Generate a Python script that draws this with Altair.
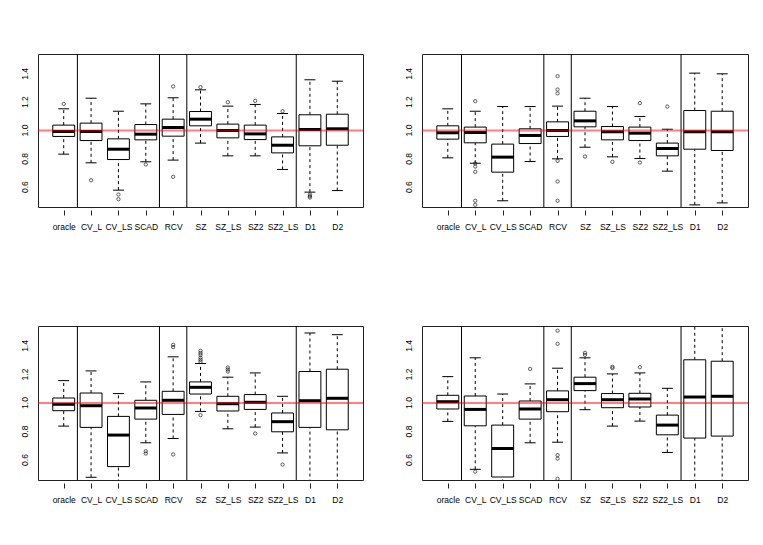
import altair as alt
import pandas as pd

methods = ["oracle", "CV_L", "CV_LS", "SCAD", "RCV", "SZ", "SZ_LS", "SZ2", "SZ2_LS", "D1", "D2"]
separators = [1.5, 4.5, 5.5, 9.5]
reference = [1.0]
y_ticks = [0.6, 0.8, 1.0, 1.2, 1.4]

# Panel 1 (top-left)
p1_low = [0.833, 0.772, 0.579, 0.779, 0.791, 0.911, 0.821, 0.821, 0.725, 0.565, 0.576]
p1_q1 = [0.958, 0.929, 0.795, 0.934, 0.960, 1.033, 0.948, 0.936, 0.842, 0.892, 0.896]
p1_med = [0.993, 0.993, 0.868, 0.974, 1.021, 1.080, 1.000, 0.976, 0.896, 1.007, 1.012]
p1_q3 = [1.038, 1.052, 0.941, 1.042, 1.080, 1.134, 1.045, 1.038, 0.955, 1.111, 1.115]
p1_high = [1.153, 1.228, 1.136, 1.188, 1.231, 1.287, 1.172, 1.184, 1.120, 1.358, 1.348]
p1_out_m = ["oracle", "CV_L", "CV_LS", "CV_LS", "SCAD", "RCV", "RCV", "SZ", "SZ_LS", "SZ2", "SZ2_LS", "D1", "D1", "D1"]
p1_out_v = [1.188, 0.649, 0.548, 0.515, 0.760, 1.311, 0.673, 1.306, 1.200, 1.209, 1.136, 0.548, 0.536, 0.527]

# Panel 2 (top-right)
p2_low = [0.807, 0.769, 0.504, 0.781, 0.800, 0.882, 0.814, 0.802, 0.713, 0.475, 0.489]
p2_q1 = [0.939, 0.913, 0.706, 0.908, 0.958, 1.026, 0.934, 0.929, 0.821, 0.868, 0.859]
p2_med = [0.984, 0.986, 0.812, 0.965, 1.000, 1.068, 0.991, 0.981, 0.873, 0.991, 0.991]
p2_q3 = [1.033, 1.024, 0.904, 1.012, 1.061, 1.136, 1.028, 1.024, 0.911, 1.141, 1.136]
p2_high = [1.153, 1.136, 1.169, 1.169, 1.172, 1.228, 1.169, 1.099, 1.009, 1.405, 1.400]
p2_out_m = ["CV_L", "CV_L", "CV_L", "CV_L", "CV_L", "CV_L", "RCV", "RCV", "RCV", "RCV", "RCV", "RCV",
            "SZ", "SZ_LS", "SZ2", "SZ2", "SZ2_LS"]
p2_out_v = [1.207, 0.767, 0.746, 0.708, 0.504, 0.475, 1.384, 1.289, 1.262, 0.786, 0.640, 0.504,
            0.816, 0.779, 1.193, 0.774, 1.169]

# Panel 3 (bottom-left)
p3_low = [0.838, 0.479, 0.400, 0.721, 0.751, 0.941, 0.819, 0.831, 0.650, 0.400, 0.400]
p3_q1 = [0.946, 0.829, 0.554, 0.887, 0.920, 1.063, 0.944, 0.955, 0.798, 0.829, 0.812]
p3_med = [0.991, 0.981, 0.775, 0.965, 1.019, 1.110, 0.995, 1.005, 0.869, 1.016, 1.033]
p3_q3 = [1.035, 1.070, 0.906, 1.019, 1.082, 1.148, 1.047, 1.059, 0.930, 1.221, 1.237]
p3_high = [1.157, 1.225, 1.066, 1.148, 1.324, 1.277, 1.181, 1.211, 1.047, 1.491, 1.479]
p3_out_m = ["SCAD", "SCAD", "RCV", "RCV", "RCV", "SZ", "SZ", "SZ", "SZ", "SZ", "SZ", "SZ",
            "SZ_LS", "SZ_LS", "SZ_LS", "SZ2", "SZ2_LS"]
p3_out_v = [0.662, 0.646, 1.408, 1.392, 0.639, 1.366, 1.350, 1.336, 1.317, 1.303, 1.289, 0.915,
            1.249, 1.235, 1.221, 0.786, 0.568]

# Panel 4 (bottom-right)
p4_low = [0.871, 0.535, 0.400, 0.721, 0.725, 0.953, 0.838, 0.873, 0.653, 0.400, 0.400]
p4_q1 = [0.958, 0.840, 0.481, 0.887, 0.939, 1.087, 0.967, 0.972, 0.777, 0.754, 0.768]
p4_med = [1.009, 0.955, 0.681, 0.958, 1.023, 1.136, 1.023, 1.028, 0.845, 1.042, 1.047]
p4_q3 = [1.054, 1.049, 0.845, 1.014, 1.085, 1.181, 1.066, 1.068, 0.915, 1.303, 1.293]
p4_high = [1.185, 1.317, 1.063, 1.134, 1.244, 1.317, 1.204, 1.211, 1.103, 1.620, 1.620]
p4_out_m = ["CV_L", "SCAD", "RCV", "RCV", "RCV", "RCV", "RCV", "SZ", "SZ", "SZ_LS", "SZ_LS", "SZ2"]
p4_out_v = [0.519, 1.239, 1.507, 1.415, 0.634, 0.610, 0.468, 1.352, 1.338, 1.254, 1.245, 1.251]

FONT = "Liberation Sans"

xs = alt.Scale(domain=[0.06, 11.94], nice=False, zero=False)
ys = alt.Scale(domain=[0.46, 1.54], nice=False, zero=False)

label_expr = "[" + ",".join("'%s'" % m for m in methods) + "][datum.value - 1]"
x_axis = alt.Axis(values=list(range(1, len(methods) + 1)), labelExpr=label_expr, title=None,
                  grid=False, domain=False, tickSize=5, offset=3, labelPadding=7,
                  tickColor="#222", labelOverlap=False, labelFlush=False,
                  minExtent=26, maxExtent=26)
y_axis = alt.Axis(values=y_ticks, title=None, grid=False, domain=False, ticks=False,
                  labels=False, minExtent=24, maxExtent=24)


def X(field):
    return alt.X(field, scale=xs, axis=x_axis, title=None)


def Y(field):
    return alt.Y(field, scale=ys, axis=y_axis, title=None)


def panel(low, q1, med, q3, high, out_m, out_v, red_color, red_width, red_opacity, w, h):
    df = pd.DataFrame({
        "method": methods,
        "pos": list(range(1, len(methods) + 1)),
        "low": low, "q1": q1, "med": med, "q3": q3, "high": high,
    })
    pos_of = {m: i + 1 for i, m in enumerate(methods)}
    odf = pd.DataFrame({"pos": [pos_of[m] for m in out_m], "val": out_v})
    sdf = pd.DataFrame({"sep": separators})
    rdf = pd.DataFrame({"ref": reference})
    tdf = pd.DataFrame({"tick": y_ticks})

    base = alt.Chart(df).transform_calculate(
        left="datum.pos - 0.4", right="datum.pos + 0.4",
        sl="datum.pos - 0.2", sr="datum.pos + 0.2",
    )
    wl = base.mark_rule(color="black", strokeWidth=1, strokeDash=[3, 3], clip=True).encode(
        x=X("pos:Q"), y=Y("low:Q"), y2="q1:Q")
    wh = base.mark_rule(color="black", strokeWidth=1, strokeDash=[3, 3], clip=True).encode(
        x=X("pos:Q"), y=Y("q3:Q"), y2="high:Q")
    st_lo = base.mark_rule(color="black", strokeWidth=1, clip=True).encode(
        x=X("sl:Q"), x2="sr:Q", y=Y("low:Q"))
    st_hi = base.mark_rule(color="black", strokeWidth=1, clip=True).encode(
        x=X("sl:Q"), x2="sr:Q", y=Y("high:Q"))
    box = base.mark_rect(fill="white", stroke="black", strokeWidth=1, clip=True).encode(
        x=X("left:Q"), x2="right:Q", y=Y("q1:Q"), y2="q3:Q")
    medl = base.mark_rule(color="black", strokeWidth=3, clip=True).encode(
        x=X("left:Q"), x2="right:Q", y=Y("med:Q"))
    outs = alt.Chart(odf).mark_point(shape="circle", filled=False, color="black",
                                     size=11, strokeWidth=0.9, clip=True).encode(
        x=X("pos:Q"), y=Y("val:Q"))
    seps = alt.Chart(sdf).mark_rule(color="black", strokeWidth=1).encode(x=X("sep:Q"))
    red = alt.Chart(rdf).mark_rule(color=red_color, strokeWidth=red_width,
                                   opacity=red_opacity).encode(y=Y("ref:Q"))
    ylab = alt.Chart(tdf).mark_text(angle=270, align="center", baseline="middle",
                                    font=FONT, fontSize=8.5, color="black").encode(
        y=Y("tick:Q"), x=alt.value(-13), text=alt.Text("tick:Q", format=".1f"))
    return alt.layer(wl, wh, st_lo, st_hi, box, medl, outs, seps, red, ylab).properties(
        width=w, height=h)


c1 = panel(p1_low, p1_q1, p1_med, p1_q3, p1_high, p1_out_m, p1_out_v, "#ff0000", 2, 0.5, 325, 153)
c2 = panel(p2_low, p2_q1, p2_med, p2_q3, p2_high, p2_out_m, p2_out_v, "#ff0000", 2, 0.5, 326, 153)
c3 = panel(p3_low, p3_q1, p3_med, p3_q3, p3_high, p3_out_m, p3_out_v, "#ff0000", 1.2, 1, 325, 154)
c4 = panel(p4_low, p4_q1, p4_med, p4_q3, p4_high, p4_out_m, p4_out_v, "#ff0000", 1.2, 1, 326, 154)

chart = alt.vconcat(
    alt.hconcat(c1, c2, spacing=32),
    alt.hconcat(c3, c4, spacing=32),
    spacing=88,
).properties(
    padding={"left": 5, "top": 45, "right": 5, "bottom": 5},
    background="white",
).configure_view(
    stroke="#222", strokeWidth=1
).configure_axis(
    labelFont=FONT, labelFontSize=8.5, labelColor="black"
)

chart.save("out.html", embed_options={"renderer": "svg", "actions": False})
